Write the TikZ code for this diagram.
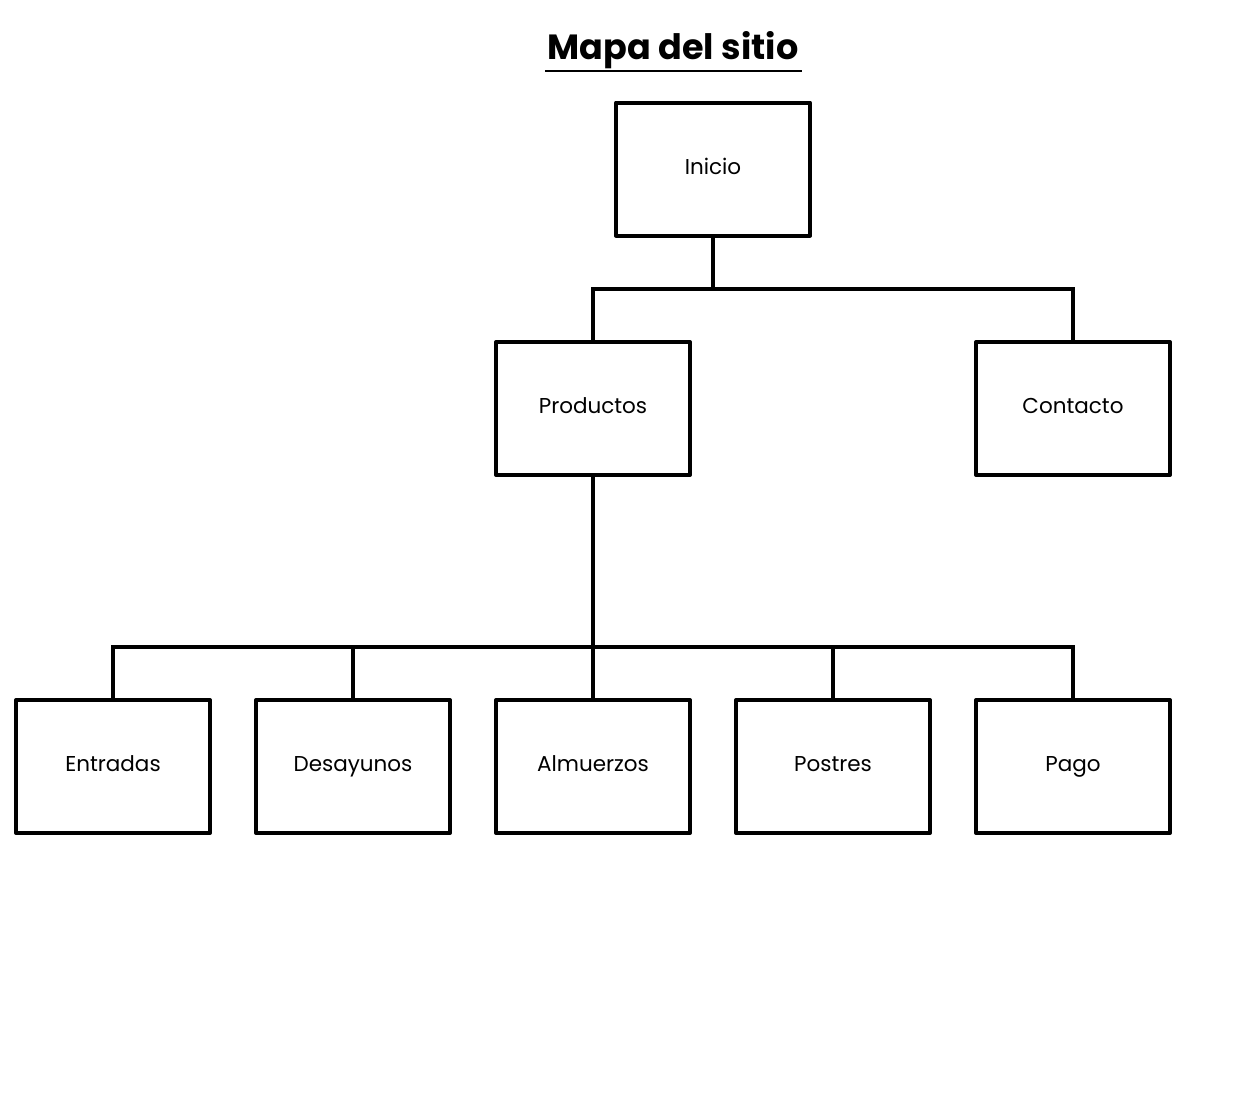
\documentclass[tikz,border=0pt]{standalone}
\usepackage{fontspec}
\setmainfont{Poppins}
\begin{document}
\begin{tikzpicture}[x=1pt,y=-1pt,
  page/.style={draw=black,line width=4pt,line join=round,minimum width=194pt,minimum height=133pt,inner sep=0pt,font=\fontsize{21.5}{24}\selectfont,text height=1.05em,text depth=0em,fill=white},
  link/.style={draw=black,line width=3.4pt}]
\useasboundingbox[fill=white] (0,0) rectangle (1254,1106);
\node[font=\bfseries\fontsize{35}{40}\selectfont,text height=0.72em,text depth=0.2em] (title) at (673,57) {Mapa del sitio};
\draw[line width=2.5pt] (545,71) -- (802,71);
\node[page] (inicio) at (713,169) {Inicio};
\node[page] (prod) at (593,408.5) {Productos};
\node[page] (cont) at (1073,408.5) {Contacto};
\node[page] (ent) at (113,766.5) {Entradas};
\node[page] (des) at (353,766.5) {Desayunos};
\node[page] (alm) at (593,766.5) {Almuerzos};
\node[page] (pos) at (833,766.5) {Postres};
\node[page] (pag) at (1073,766.5) {Pago};
\coordinate (j1) at (713,289);
\coordinate (j2) at (593,647);
\draw[link] (inicio.south) -- (j1);
\draw[link] (prod.north) |- (j1) -| (cont.north);
\draw[link] (prod.south) -- (j2);
\foreach \n in {ent,des,alm,pos,pag} \draw[link] (\n.north) |- (j2);
\end{tikzpicture}
\end{document}
